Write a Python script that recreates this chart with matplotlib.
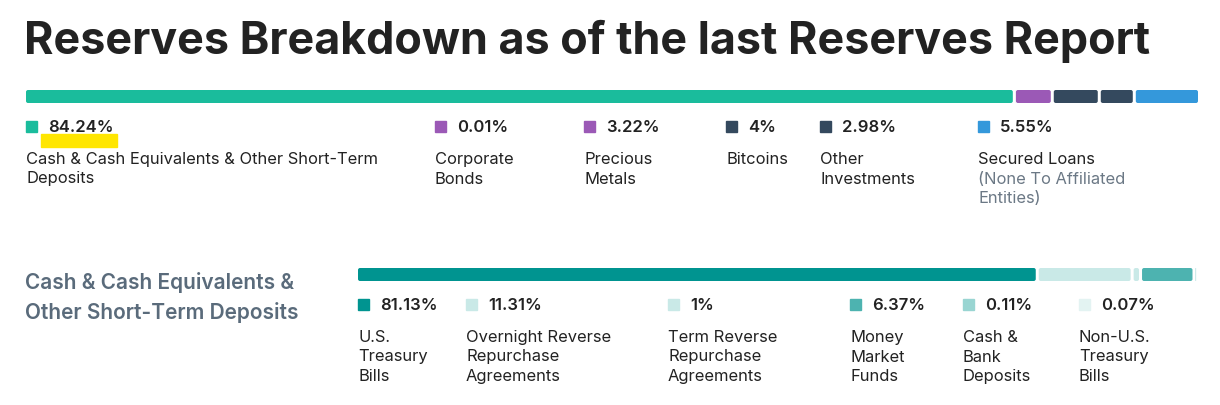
import numpy as np
import matplotlib
matplotlib.use('Agg')
import matplotlib.pyplot as plt
from matplotlib.patches import FancyBboxPatch

# --- podaci ---
reserve_labels = ['Cash & Cash Equivalents & Other Short-Term\nDeposits', 'Corporate\nBonds',
                  'Precious\nMetals', 'Bitcoins', 'Other\nInvestments', 'Secured Loans']
reserve_pct = [84.24, 0.01, 3.22, 4, 2.98, 5.55]
reserve_colors = ['#1abc9c', '#9b59b6', '#9b59b6', '#34495e', '#34495e', '#3498db']

cash_labels = ['U.S.\nTreasury\nBills', 'Overnight Reverse\nRepurchase\nAgreements',
               'Term Reverse\nRepurchase\nAgreements', 'Money\nMarket\nFunds',
               'Cash &\nBank\nDeposits', 'Non-U.S.\nTreasury\nBills']
cash_pct = [81.13, 11.31, 1, 6.37, 0.11, 0.07]
cash_colors = ['#009490', '#c9e9e7', '#c9e9e7', '#4db3b0', '#99d5d2', '#e3f3f2']

W, H = 1220, 405
fig = plt.figure(figsize=(W / 100, H / 100), dpi=100)
plt.rcParams['font.family'] = ['Inter', 'DejaVu Sans']

TXT = '#222222'
GRAY = '#6b7885'
LINE = 19.5  # razmak redova u pikselima


def px(x, y):
    return x / W, 1 - y / H


def fmt(v):
    return f'{v:g}%'


def stacked_bar(x0, x1, ytop, h, vals, colors, gap_px=3, radius_px=2):
    ax = fig.add_axes([x0 / W, 1 - (ytop + h) / H, (x1 - x0) / W, h / H])
    left = np.concatenate([[0], np.cumsum(vals)[:-1]])
    bars = ax.barh(0, vals, left=left, height=1, color=colors, linewidth=0)
    total = sum(vals)
    ax.set_xlim(0, total)
    ax.set_ylim(-0.5, 0.5)
    ax.axis('off')
    xu = total / (x1 - x0)   # jedinice po pikselu
    yu = 1 / h
    # zaobljeni segmenti sa malim razmakom, geometrija uzeta iz barh
    for b in bars:
        x, w = b.get_x(), b.get_width()
        g = min(gap_px * xu, 0.5 * w)
        ww = w - g
        r = min(radius_px * xu, ww / 2)
        p = FancyBboxPatch((x, b.get_y()), ww, b.get_height(),
                           boxstyle=f'round,pad=0,rounding_size={r}',
                           mutation_aspect=yu / xu, color=b.get_facecolor(), linewidth=0)
        ax.add_patch(p)
        b.remove()
    return ax


def multiline(x, y, lines, color):
    for j, s in enumerate(lines):
        fig.text(*px(x, y + LINE * j), s, fontsize=11.9, color=color, va='baseline')


def legend_row(xs, y_pct, y_lab, vals, labels, colors, extra=None):
    for i, (x, v, lab, c) in enumerate(zip(xs, vals, labels, colors)):
        fig.patches.append(plt.Rectangle(px(x, y_pct), 11 / W, 11.5 / H,
                                         transform=fig.transFigure, color=c))
        fig.text(*px(x + 22, y_pct), fmt(v), fontsize=12, fontweight='semibold',
                 color=TXT, va='baseline')
        rows = lab.split('\n')
        multiline(x, y_lab, rows, TXT)
        if extra and i in extra:
            multiline(x, y_lab + LINE * len(rows), extra[i].split('\n'), GRAY)


fig.text(*px(24, 54), 'Reserves Breakdown as of the last Reserves Report', fontsize=32.3,
         fontweight='bold', color=TXT, va='baseline')

# gornja traka
stacked_bar(26, 1201, 90, 13, reserve_pct, reserve_colors)
# zuto podvlacenje ispod 84.24%
fig.patches.append(plt.Rectangle(px(41, 147), 76 / W, 13 / H,
                                 transform=fig.transFigure, color='#ffe600'))
legend_row([26, 435, 584, 726, 820, 978], 132, 164, reserve_pct, reserve_labels,
           reserve_colors, extra={5: '(None To Affiliated\nEntities)'})

# druga sekcija
for j, s in enumerate(['Cash & Cash Equivalents &', 'Other Short-Term Deposits']):
    fig.text(*px(25, 289 + 30 * j), s, fontsize=15, fontweight='semibold',
             color='#5a6b7b', va='baseline')
stacked_bar(358, 1197, 268, 13, cash_pct, cash_colors)
legend_row([358, 466, 668, 850, 963, 1079], 310, 342, cash_pct, cash_labels, cash_colors)

plt.savefig('out.png', dpi=100)
plt.close()
